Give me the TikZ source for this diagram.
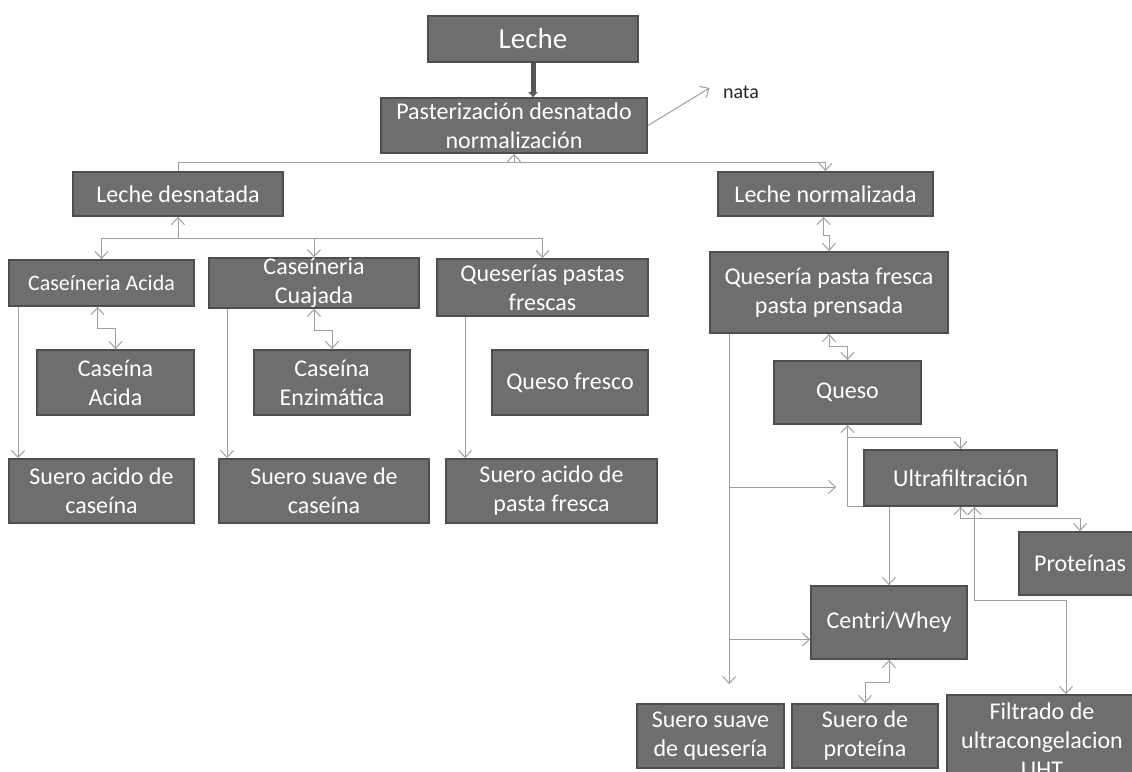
\documentclass[tikz,border=0pt]{standalone}
\usepackage{fontspec}
\setmainfont{Carlito}
\usetikzlibrary{arrows.meta,calc}
\definecolor{boxfill}{HTML}{6E6E6E}
\definecolor{boxedge}{HTML}{4E4E4E}
\definecolor{linkgray}{HTML}{9E9E9E}
\definecolor{mainarrow}{HTML}{575757}
\begin{document}
\begin{tikzpicture}[x=1pt,y=-1pt,
  >={Straight Barb[length=7pt,width=13pt]},
  box/.style={draw=boxedge, line width=1.8pt, fill=boxfill, text=white,
    inner sep=0pt, align=center, font=\fontsize{24}{29}\selectfont},
  con/.style={draw=linkgray, line width=1pt},
  mainlink/.style={draw=mainarrow, line width=5pt, -{Triangle[length=5pt,width=9pt]}}
]
\useasboundingbox (0,0) rectangle (1132,771);
\clip (0,0) rectangle (1132,771);
\fill[white] (0,0) rectangle (1132,771);

% top of the process
\node[box, minimum width=210pt, minimum height=46pt, font=\fontsize{29}{34}\selectfont] (leche) at (533,39) {Leche};
\node[box, minimum width=266pt, minimum height=55pt] (past) at (514,125.5) {Pasterización desnatado\\normalización};
\node[font=\fontsize{20}{24}\selectfont, text=black!85] (nata) at (741,92) {nata};
\node[box, minimum width=210pt, minimum height=44pt] (ld) at (178,194) {Leche desnatada};
\node[box, minimum width=215pt, minimum height=44pt] (ln) at (825.5,194) {Leche normalizada};

% skimmed milk branch
\node[box, minimum width=185pt, minimum height=46pt, font=\fontsize{22}{26}\selectfont] (ca) at (101.5,283) {Caseíneria Acida};
\node[box, minimum width=210pt, minimum height=46pt] (cc) at (314,283) {Caseíneria\\Cuajada};
\node[box, minimum width=211pt, minimum height=57pt] (qp) at (542.5,287.5) {Queserías pastas\\frescas};
\node[box, minimum width=157pt, minimum height=65pt] (cac) at (115.5,382.5) {Caseína\\Acida};
\node[box, minimum width=156pt, minimum height=65pt] (ce) at (332,382.5) {Caseína\\Enzimática};
\node[box, minimum width=156pt, minimum height=65pt] (qf) at (570,382.5) {Queso fresco};
\node[box, minimum width=185pt, minimum height=64pt] (sac) at (101.5,491) {Suero acido de\\caseína};
\node[box, minimum width=210pt, minimum height=64pt] (ssc) at (324,491) {Suero suave de\\caseína};
\node[box, minimum width=211pt, minimum height=64pt] (sap) at (551.5,491) {Suero acido de\\pasta fresca};

% standardised milk branch
\node[box, minimum width=238pt, minimum height=81pt] (qpf) at (829,292.5) {Quesería pasta fresca\\pasta prensada};
\node[box, minimum width=147pt, minimum height=63pt] (queso) at (847.5,392.5) {Queso};
\node[box, minimum width=193pt, minimum height=56pt] (ultra) at (960.5,478) {Ultrafiltración};
\node[box, minimum width=122pt, minimum height=63pt] (prot) at (1080,563.5) {Proteínas};
\node[box, minimum width=156pt, minimum height=73pt] (centri) at (889,622.5) {Centri/Whey};
\node[box, minimum width=147pt, minimum height=64pt] (ssq) at (710.5,736) {Suero suave\\de quesería};
\node[box, minimum width=146pt, minimum height=64pt] (sdp) at (865,736) {Suero de\\proteína};
\node[box, minimum width=190pt, minimum height=90pt] (filt) at (1042,740) {Filtrado de\\ultracongelacion\\UHT};

% connectors, top
\draw[mainlink] (leche.south) -- (leche.south |- past.north);
\draw[con,->] (past.east) -- ($(nata.west)+(-10,-4)$);
\coordinate (j1) at ($(past.south)+(0,9)$);
\draw[con,<-] (past.south) -- (j1) -| (ld.north);
\draw[con,->] (j1) -| (ln.north);

% connectors, skimmed milk branch
\coordinate (j2) at ($(ld.south)+(0,22)$);
\draw[con,<-] (ld.south) -- (j2);
\draw[con,->] (j2) -| (ca.north);
\draw[con,->] (j2) -| (cc.north);
\draw[con,->] (j2) -| (qp.north);
\draw[con,<->] ([xshift=-4pt]ca.south) -- ++(0,22) -| (cac.north);
\draw[con,<->] (cc.south) -- ++(0,22) -| (ce.north);
\coordinate (s1) at ([xshift=10pt]ca.south west);
\draw[con,->] (s1) -- (s1 |- sac.north);
\coordinate (s2) at ([xshift=19pt]cc.south west);
\draw[con,->] (s2) -- (s2 |- ssc.north);
\coordinate (s3) at ([xshift=29pt]qp.south west);
\draw[con,->] (s3) -- (s3 |- sap.north);

% connectors, standardised milk branch
\draw[con,<->] ([xshift=-2pt]ln.south) -- ++(0,19) -| (qpf.north);
\draw[con,<->] (qpf.south) -- ++(0,13) -| (queso.north);
\draw[con,<->] (queso.south) -- ++(0,13) -| (ultra.north);
\draw[con] (ultra.south west) -| (queso.south);
\coordinate (v0) at ([xshift=20pt]qpf.south west);
\draw[con,->,shorten >=19pt] (v0) -- (v0 |- ssq.north);
\coordinate (b1) at ($(v0 |- ultra.west)+(0,9)$);
\draw[con,->] (b1) -- ($(ultra.west |- b1)+(-27,0)$);
\coordinate (b2) at ($(v0 |- centri.west)+(0,17)$);
\draw[con,->] (b2) -- (centri.west |- b2);
\draw[con,->] (centri.north |- ultra.south) -- (centri.north);
\draw[con,<->] (ultra.south) -- ++(0,12) -| (prot.north);
\draw[con,<->] ([xshift=14pt]ultra.south) -- ++(0,94) -| ([xshift=24pt]filt.north);
\draw[con,<->] (centri.south) -- ++(0,23) -| (sdp.north);
\end{tikzpicture}
\end{document}
